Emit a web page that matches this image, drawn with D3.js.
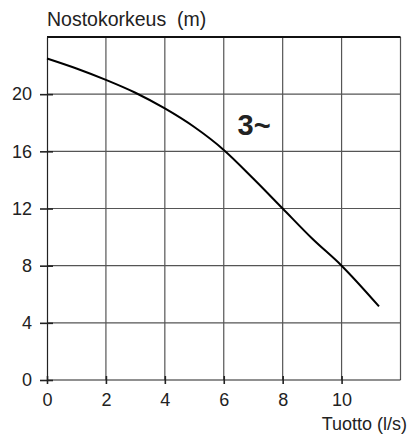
<!DOCTYPE html>
<html>
<head>
<meta charset="utf-8">
<script src="https://cdn.jsdelivr.net/npm/d3@7"></script>
<style>
  body { margin: 0; background: #fff; }
  text { font-family: Arial, "Liberation Sans", sans-serif; fill: #222; }
</style>
</head>
<body>
<div id="chart"></div>
<script>
const Width = 412;
const Height = 436;

// curve
const flow = [0, 1, 2, 3, 4, 5, 6, 7, 8, 9, 10, 11.27];
const head = [22.5, 21.8, 21.0, 20.1, 19.0, 17.7, 16.1, 14.1, 12.0, 9.9, 8.0, 5.15];
const xTicks = [0, 2, 4, 6, 8, 10];
const yTicks = [0, 4, 8, 12, 16, 20];
const xGrid = [2, 4, 6, 8, 10, 12];
const yGrid = [4, 8, 12, 16, 20];

const x = d3.scaleLinear().domain([0, 12]).range([47, 400.5]);
const y = d3.scaleLinear().domain([0, 24]).range([380, 37]);

const svg = d3.select('#chart').
append('svg').
attr('width', Width).
attr('height', Height);

//grid
svg.append('g').selectAll('line').
data(xGrid).
enter().
append('line').
attr('x1', d => x(d)).attr('x2', d => x(d)).
attr('y1', y(24)).attr('y2', y(0)).
attr('stroke', '#555').attr('stroke-width', 1.2);

svg.append('g').selectAll('line').
data(yGrid).
enter().
append('line').
attr('x1', x(0)).attr('x2', x(12)).
attr('y1', d => y(d)).attr('y2', d => y(d)).
attr('stroke', '#555').attr('stroke-width', 1.2);

//top border
svg.append('line').
attr('x1', x(0)).attr('x2', x(12)).
attr('y1', y(24)).attr('y2', y(24)).
attr('stroke', '#111').attr('stroke-width', 1.8);

//axes
const xAxis = d3.axisBottom(x).tickValues(xTicks).tickSize(4).tickPadding(9).tickSizeOuter(0);
const yAxis = d3.axisLeft(y).tickValues(yTicks).tickSize(7).tickPadding(8).tickSizeOuter(0);

const gx = svg.append('g').attr('transform', 'translate(0,' + y(0) + ')').call(xAxis);
const gy = svg.append('g').attr('transform', 'translate(' + x(0) + ',0)').call(yAxis);

[gx, gy].forEach(g => {
  g.select('.domain').attr('stroke', '#222').attr('stroke-width', 1.2);
  g.selectAll('.tick line').attr('stroke', '#222').attr('stroke-width', 1.6);
  g.selectAll('.tick text').style('font-size', '18px').attr('fill', '#222');
});
gx.select('.domain').attr('d', 'M' + x(0) + ',0H' + x(12));
// ticks cross the axis
gx.selectAll('.tick line').attr('y1', -4);
gy.selectAll('.tick line').attr('x1', 6);

//curve
const line = d3.line().
x((d, i) => x(flow[i])).
y(d => y(d)).
curve(d3.curveMonotoneX);

svg.append('path').
datum(head).
attr('d', line).
attr('fill', 'none').
attr('stroke', '#000').
attr('stroke-width', 2);

//labels
svg.append('text').
attr('x', x(0)).attr('y', 26).
style('font-size', '19.5px').
text('Nostokorkeus\u00a0\u00a0(m)');

svg.append('text').
attr('x', 407).attr('y', 430).
attr('text-anchor', 'end').
style('font-size', '18px').
text('Tuotto (l/s)');

svg.append('text').
attr('x', x(6.47)).attr('y', y(17.15)).
style('font-size', '29px').
style('font-weight', 'bold').
text('3~');
</script>
</body>
</html>
